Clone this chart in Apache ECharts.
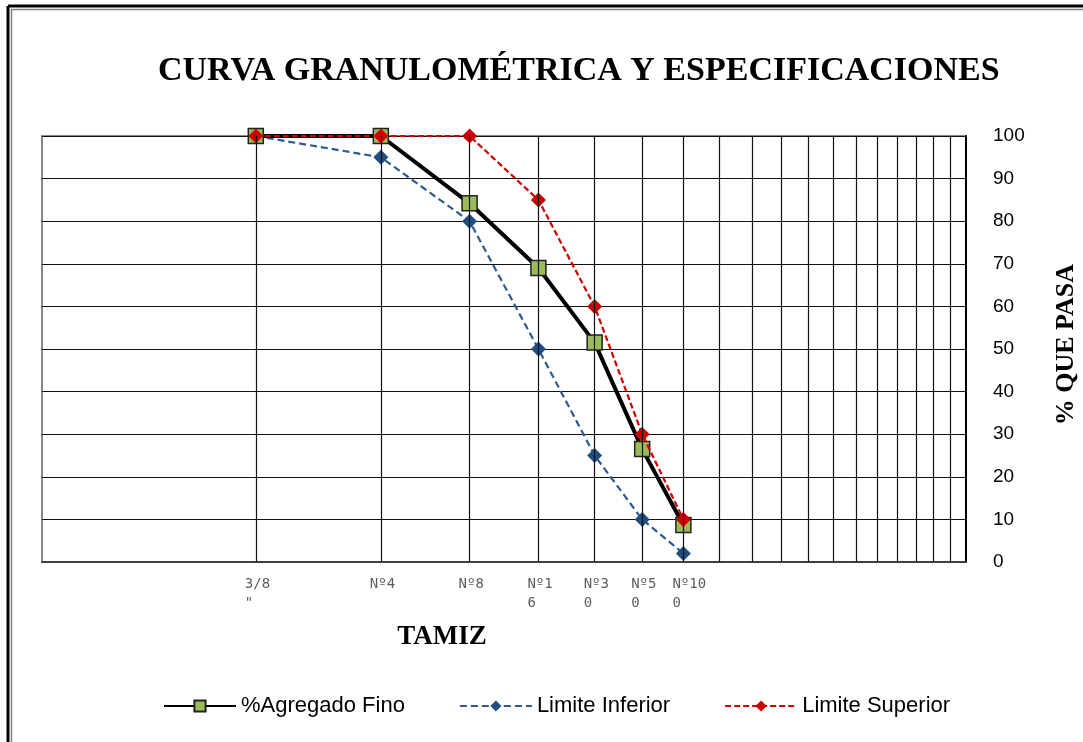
<!DOCTYPE html>
<html>
<head>
<meta charset="utf-8">
<script src="https://cdn.jsdelivr.net/npm/echarts@6/dist/echarts.min.js"></script>
<style>html,body{margin:0;padding:0;background:#fff}#c{width:1083px;height:742px}</style>
</head>
<body>
<div id="c"></div>
<script>
// Sieve positions on the logarithmic x axis and their labels
var sievePos = [2, 3, 4, 5, 6, 7, 8];
var sieveLabels = ['3/8\n"', 'Nº4', 'Nº8', 'Nº1\n6', 'Nº3\n0', 'Nº5\n0', 'Nº10\n0'];
// Vertical grid positions (log axis from 1 to 20)
var gridPos = [2, 3, 4, 5, 6, 7, 8, 9, 10, 11, 12, 13, 14, 15, 16, 17, 18, 19];
// % que pasa
var agregadoFino = [100, 100, 84.2, 69, 51.5, 26.5, 8.7];
var limiteInferior = [100, 95, 80, 50, 25, 10, 2];
var limiteSuperior = [100, 100, 100, 85, 60, 30, 10];

function pairs(vals) { return sievePos.map(function (x, i) { return [x, vals[i]]; }); }

var chart = echarts.init(document.getElementById('c'), null, { renderer: 'canvas' });
chart.setOption({
  animation: false,
  backgroundColor: '#fff',
  title: [
    { text: 'CURVA GRANULOMÉTRICA Y ESPECIFICACIONES', left: 153, top: 49,
      textStyle: { fontFamily: 'Liberation Serif', fontWeight: 'bold', fontSize: 34, color: '#000' } },
    { text: 'TAMIZ', left: 437, top: 619, textAlign: 'center',
      textStyle: { fontFamily: 'Liberation Serif', fontWeight: 'bold', fontSize: 27, color: '#000' } }
  ],
  graphic: [
    { type: 'line', shape: { x1: 8, y1: 6, x2: 8, y2: 742 }, style: { stroke: '#000', lineWidth: 3 } },
    { type: 'line', shape: { x1: 11.5, y1: 9, x2: 11.5, y2: 742 }, style: { stroke: '#808080', lineWidth: 1.5 } },
    { type: 'line', shape: { x1: 8, y1: 6, x2: 1083, y2: 6 }, style: { stroke: '#000', lineWidth: 3 } },
    { type: 'line', shape: { x1: 11, y1: 9.5, x2: 1083, y2: 9.5 }, style: { stroke: '#808080', lineWidth: 1.5 } },
    { type: 'text', left: 1053, top: 264, rotation: Math.PI / 2, style: { text: '% QUE PASA', fontFamily: 'Liberation Serif', fontWeight: 'bold', fontSize: 26, fill: '#000', textAlign: 'center', textVerticalAlign: 'middle' } }
  ],
  legend: {
    bottom: 20, left: 158, itemWidth: 72, itemHeight: 14, itemGap: 54,
    data: ['%Agregado Fino', 'Limite Inferior', 'Limite Superior'],
    textStyle: { fontFamily: 'Liberation Sans', fontSize: 22, color: '#000' }
  },
  grid: { left: 42, right: 117, top: 136, bottom: 180, show: true, borderColor: '#8a8a8a', borderWidth: 2 },
  xAxis: {
    type: 'log', logBase: 10, min: 1, max: 20,
    axisLine: { show: true, lineStyle: { color: '#404040', width: 2 } },
    axisTick: { show: false }, axisLabel: { show: false }, splitLine: { show: false }, minorTick: { show: false }
  },
  yAxis: {
    type: 'value', position: 'right', min: 0, max: 100, interval: 10,
    axisLine: { show: true, lineStyle: { color: '#000', width: 2 } },
    axisTick: { show: false },
    axisLabel: { margin: 27, fontFamily: 'Liberation Sans', fontSize: 19, color: '#000' },
    splitLine: { show: true, lineStyle: { color: '#111', width: 1.2 } }
  },
  series: [
    { name: 'grid', type: 'line', data: [], z: 1, silent: true,
      markLine: { silent: true, symbol: 'none', animation: false, label: { show: false },
        lineStyle: { color: '#111', width: 1.2, type: 'solid' },
        data: gridPos.map(function (v) { return { xAxis: v }; }) } },
    { name: 'labels', type: 'scatter', data: sievePos.map(function (x) { return [x, 0]; }), z: 1, silent: true, clip: false,
      symbolSize: 0.1, itemStyle: { color: 'rgba(0,0,0,0)' },
      label: { show: true, position: 'bottom', distance: 13, align: 'left', verticalAlign: 'top', offset: [-11, 0],
        fontFamily: 'DejaVu Sans Mono', fontSize: 14, lineHeight: 19, color: '#333',
        formatter: function (p) { return sieveLabels[p.dataIndex]; } } },
    { name: 'Limite Inferior', type: 'line', data: pairs(limiteInferior), z: 3,
      symbol: 'diamond', symbolSize: 15,
      lineStyle: { color: '#2E5A8C', width: 2.2, type: [7, 4] },
      itemStyle: { color: '#1F4E80', borderWidth: 0 } },
    { name: 'Limite Superior', type: 'line', data: pairs(limiteSuperior), z: 4,
      symbol: 'diamond', symbolSize: 15,
      lineStyle: { color: '#D00000', width: 2.2, type: [6, 3] },
      itemStyle: { color: '#CC0000', borderWidth: 0 } },
    { name: '%Agregado Fino', type: 'line', data: pairs(agregadoFino), z: 3,
      symbol: 'rect', symbolSize: 15,
      lineStyle: { color: '#000', width: 4 },
      itemStyle: { color: '#9BBB59', borderColor: '#222', borderWidth: 1.5 } }
  ]
});
</script>
</body>
</html>
